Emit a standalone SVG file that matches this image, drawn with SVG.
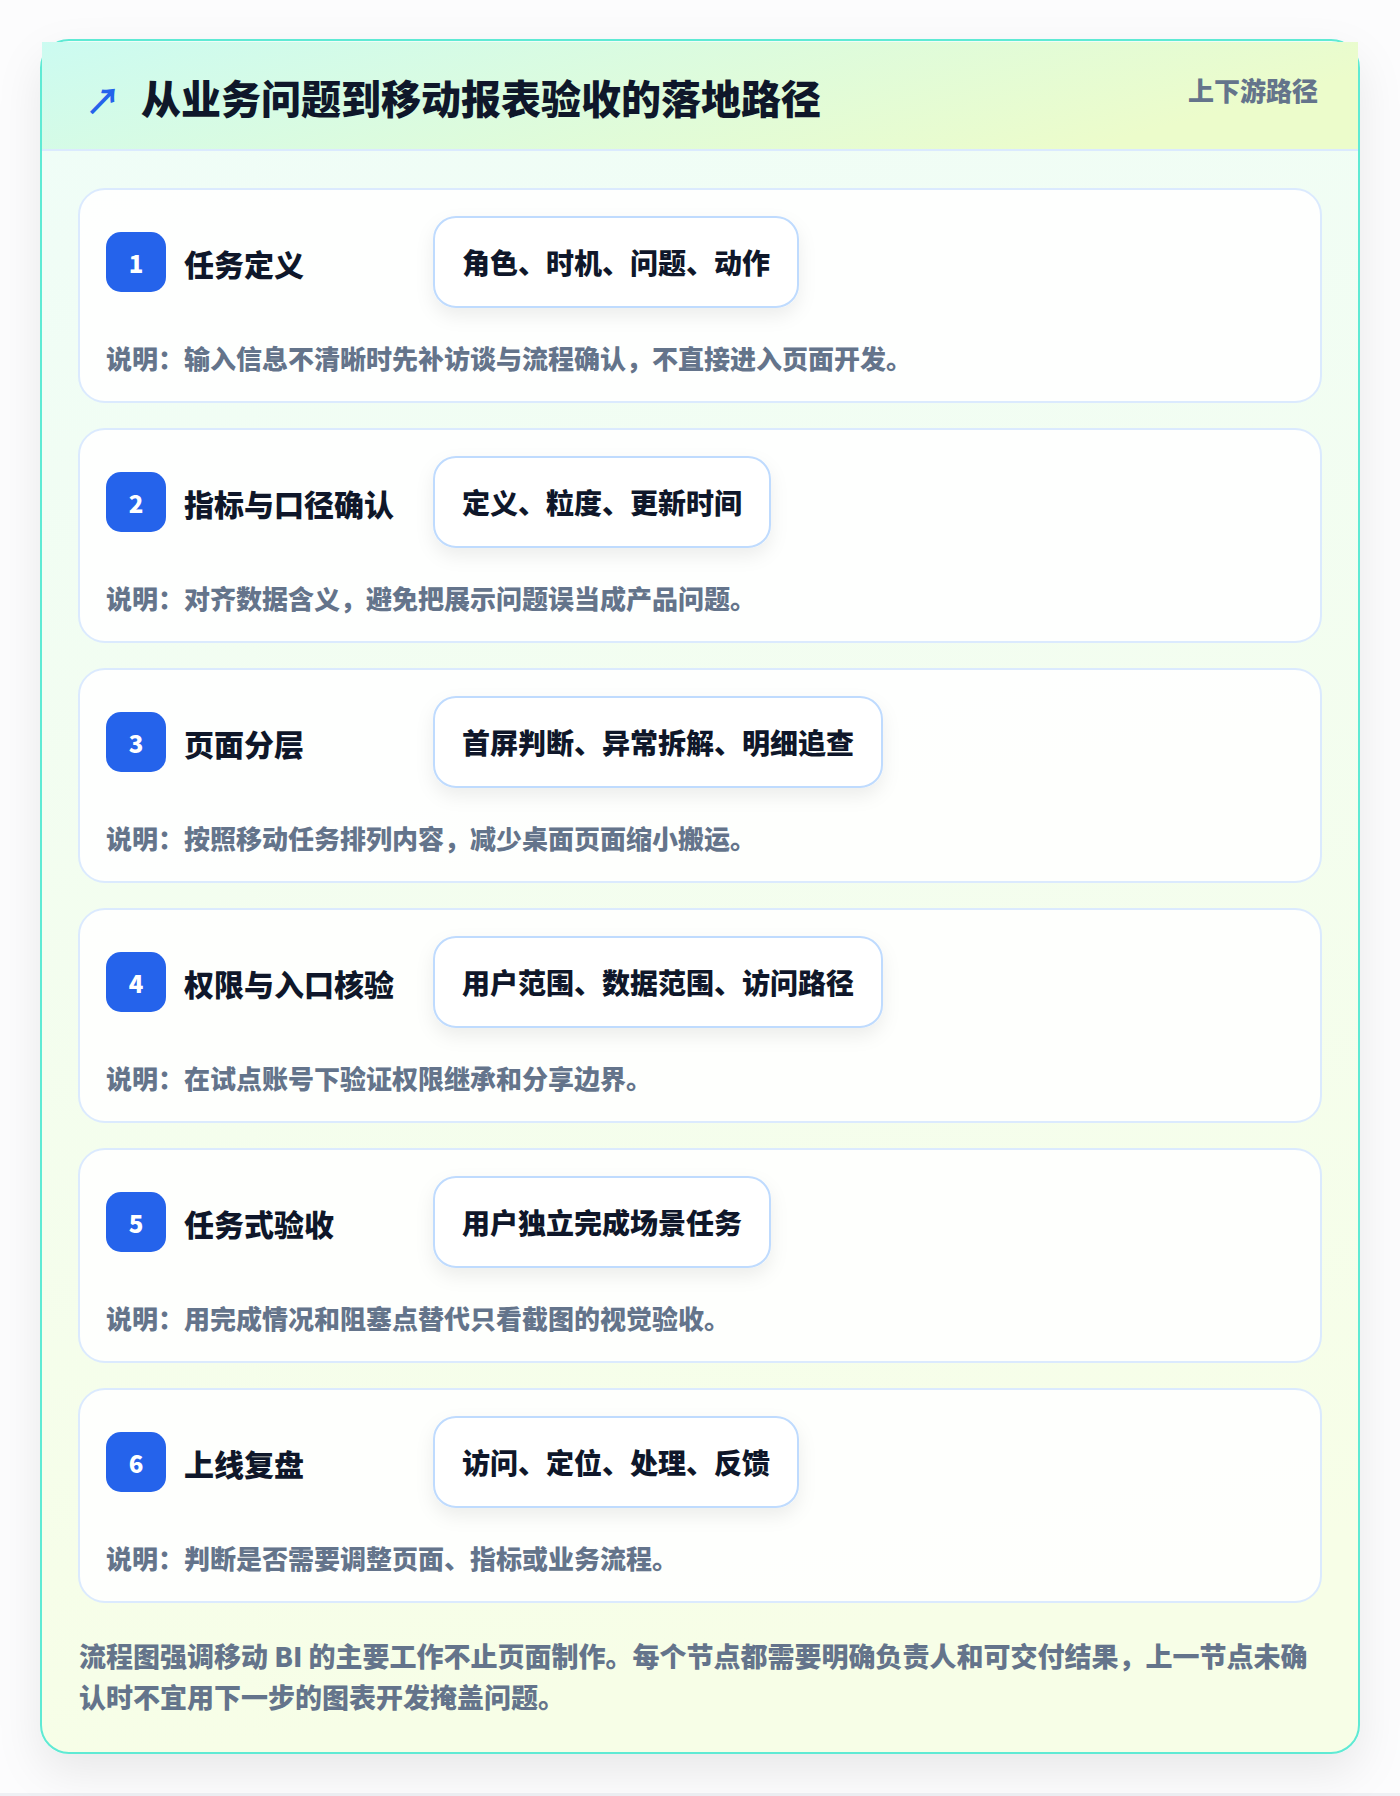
<svg xmlns="http://www.w3.org/2000/svg" width="1400" height="1796" viewBox="0 0 1400 1796">
<defs>
<linearGradient id="hdr" x1="0" y1="0" x2="1" y2="0.3">
<stop offset="0" stop-color="#ccfbf1"/>
<stop offset="1" stop-color="#ecfccb"/>
</linearGradient>
<linearGradient id="body" x1="0" y1="0" x2="0.15" y2="1">
<stop offset="0" stop-color="#effdf8"/>
<stop offset="1" stop-color="#f7fee7"/>
</linearGradient>
<filter id="cardShadow" x="-10%" y="-10%" width="120%" height="120%">
<feDropShadow dx="0" dy="18" stdDeviation="22" flood-color="#0f172a" flood-opacity="0.08"/>
</filter>
<filter id="pillShadow" x="-20%" y="-40%" width="140%" height="200%">
<feDropShadow dx="0" dy="8" stdDeviation="9" flood-color="#0f172a" flood-opacity="0.07"/>
</filter>
<style>
text{font-family:"Noto Sans CJK SC","Noto Sans",sans-serif;font-weight:800;dominant-baseline:central}
.title{font-size:40px;fill:#0f172a}
.tag{font-size:26px;fill:#64748b}
.step{fill:#ffffff;fill-opacity:0.88;stroke:#dbeafe;stroke-width:2}
.badge{fill:#2563eb}
.num{font-size:24px;fill:#ffffff;text-anchor:middle}
.stitle{font-size:30px;fill:#0f172a}
.pill{fill:#ffffff;stroke:#bfdbfe;stroke-width:2;filter:url(#pillShadow)}
.ptext{font-size:28px;fill:#0f172a}
.desc{font-size:26px;fill:#64748b}
.foot{font-size:27px;fill:#64748b}
</style>
</defs>
<rect x="0" y="0" width="1400" height="1796" fill="#fcfcfd"/>
<rect x="0" y="1793" width="1400" height="3" fill="#eef0f4"/>
<g id="card">
<rect x="41" y="40" width="1318" height="1713" rx="28" fill="url(#body)" stroke="#5eead4" stroke-width="2" filter="url(#cardShadow)"/>
<rect x="42" y="42" width="1316" height="108" fill="url(#hdr)"/>
<rect x="42" y="149" width="1316" height="2" fill="#dbeafe"/>
<text x="85" y="99" style="font-size:36px;fill:#2563eb;font-weight:700">↗</text>
<text class="title" x="141" y="97">从业务问题到移动报表验收的落地路径</text>
<text class="tag" x="1318" y="89" text-anchor="end">上下游路径</text>
</g>
<g id="connectors"></g>
<g id="step1">
<rect class="step" x="79" y="189" width="1242" height="213" rx="26"/>
<rect class="badge" x="106" y="232" width="60" height="60" rx="15"/>
<text class="num" x="136" y="262">1</text>
<text class="stitle" x="184" y="263">任务定义</text>
<rect class="pill" x="434" y="217" width="364" height="90" rx="22"/>
<text class="ptext" x="462" y="262">角色、时机、问题、动作</text>
<text class="desc" x="106" y="357">说明：输入信息不清晰时先补访谈与流程确认，不直接进入页面开发。</text>
</g>
<g id="step2">
<rect class="step" x="79" y="429" width="1242" height="213" rx="26"/>
<rect class="badge" x="106" y="472" width="60" height="60" rx="15"/>
<text class="num" x="136" y="502">2</text>
<text class="stitle" x="184" y="503">指标与口径确认</text>
<rect class="pill" x="434" y="457" width="336" height="90" rx="22"/>
<text class="ptext" x="462" y="502">定义、粒度、更新时间</text>
<text class="desc" x="106" y="597">说明：对齐数据含义，避免把展示问题误当成产品问题。</text>
</g>
<g id="step3">
<rect class="step" x="79" y="669" width="1242" height="213" rx="26"/>
<rect class="badge" x="106" y="712" width="60" height="60" rx="15"/>
<text class="num" x="136" y="742">3</text>
<text class="stitle" x="184" y="743">页面分层</text>
<rect class="pill" x="434" y="697" width="448" height="90" rx="22"/>
<text class="ptext" x="462" y="742">首屏判断、异常拆解、明细追查</text>
<text class="desc" x="106" y="837">说明：按照移动任务排列内容，减少桌面页面缩小搬运。</text>
</g>
<g id="step4">
<rect class="step" x="79" y="909" width="1242" height="213" rx="26"/>
<rect class="badge" x="106" y="952" width="60" height="60" rx="15"/>
<text class="num" x="136" y="982">4</text>
<text class="stitle" x="184" y="983">权限与入口核验</text>
<rect class="pill" x="434" y="937" width="448" height="90" rx="22"/>
<text class="ptext" x="462" y="982">用户范围、数据范围、访问路径</text>
<text class="desc" x="106" y="1077">说明：在试点账号下验证权限继承和分享边界。</text>
</g>
<g id="step5">
<rect class="step" x="79" y="1149" width="1242" height="213" rx="26"/>
<rect class="badge" x="106" y="1192" width="60" height="60" rx="15"/>
<text class="num" x="136" y="1222">5</text>
<text class="stitle" x="184" y="1223">任务式验收</text>
<rect class="pill" x="434" y="1177" width="336" height="90" rx="22"/>
<text class="ptext" x="462" y="1222">用户独立完成场景任务</text>
<text class="desc" x="106" y="1317">说明：用完成情况和阻塞点替代只看截图的视觉验收。</text>
</g>
<g id="step6">
<rect class="step" x="79" y="1389" width="1242" height="213" rx="26"/>
<rect class="badge" x="106" y="1432" width="60" height="60" rx="15"/>
<text class="num" x="136" y="1462">6</text>
<text class="stitle" x="184" y="1463">上线复盘</text>
<rect class="pill" x="434" y="1417" width="364" height="90" rx="22"/>
<text class="ptext" x="462" y="1462">访问、定位、处理、反馈</text>
<text class="desc" x="106" y="1557">说明：判断是否需要调整页面、指标或业务流程。</text>
</g>
<g id="footer">
<text class="foot" x="79" y="1655">流程图强调移动 BI 的主要工作不止页面制作。每个节点都需要明确负责人和可交付结果，上一节点未确</text>
<text class="foot" x="79" y="1696">认时不宜用下一步的图表开发掩盖问题。</text>
</g>
</svg>
